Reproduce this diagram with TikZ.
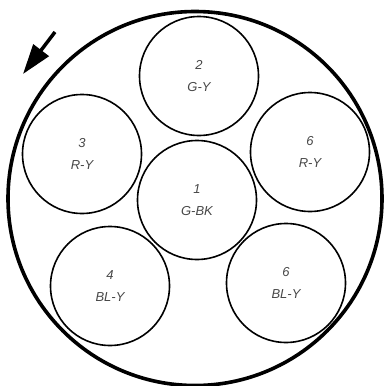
\documentclass[tikz,border=0pt]{standalone}
\usepackage{fontspec}
\setmainfont{Liberation Sans}
\usetikzlibrary{arrows.meta}
\begin{document}
\begin{tikzpicture}[x=1pt,y=-1pt,
  wire/.style={circle,draw=black,line width=1.6pt,minimum size=119pt,inner sep=0pt,
    align=center,font=\itshape\fontsize{13}{22.5}\selectfont,text=black!72},
  outer/.style={circle,draw=black,line width=3.6pt,minimum size=374pt,inner sep=0pt}]
\useasboundingbox (0,0) rectangle (386,386);
\node[outer] (shell) at (195,198.5) {};
\node[wire] (c2) at (199,76) {2\\G-Y};
\node[wire] (c3) at (82,154) {3\\R-Y};
\node[wire] (c6a) at (310,152) {6\\R-Y};
\node[wire] (c1) at (197,200) {1\\G-BK};
\node[wire] (c4) at (110,286) {4\\BL-Y};
\node[wire] (c6b) at (286,283) {6\\BL-Y};
\coordinate (as) at (55,32);
\coordinate (ae) at (23,74);
\draw[line width=3.5pt,-{Triangle[length=30pt,width=19pt]}] (as) -- (ae);
\end{tikzpicture}
\end{document}
